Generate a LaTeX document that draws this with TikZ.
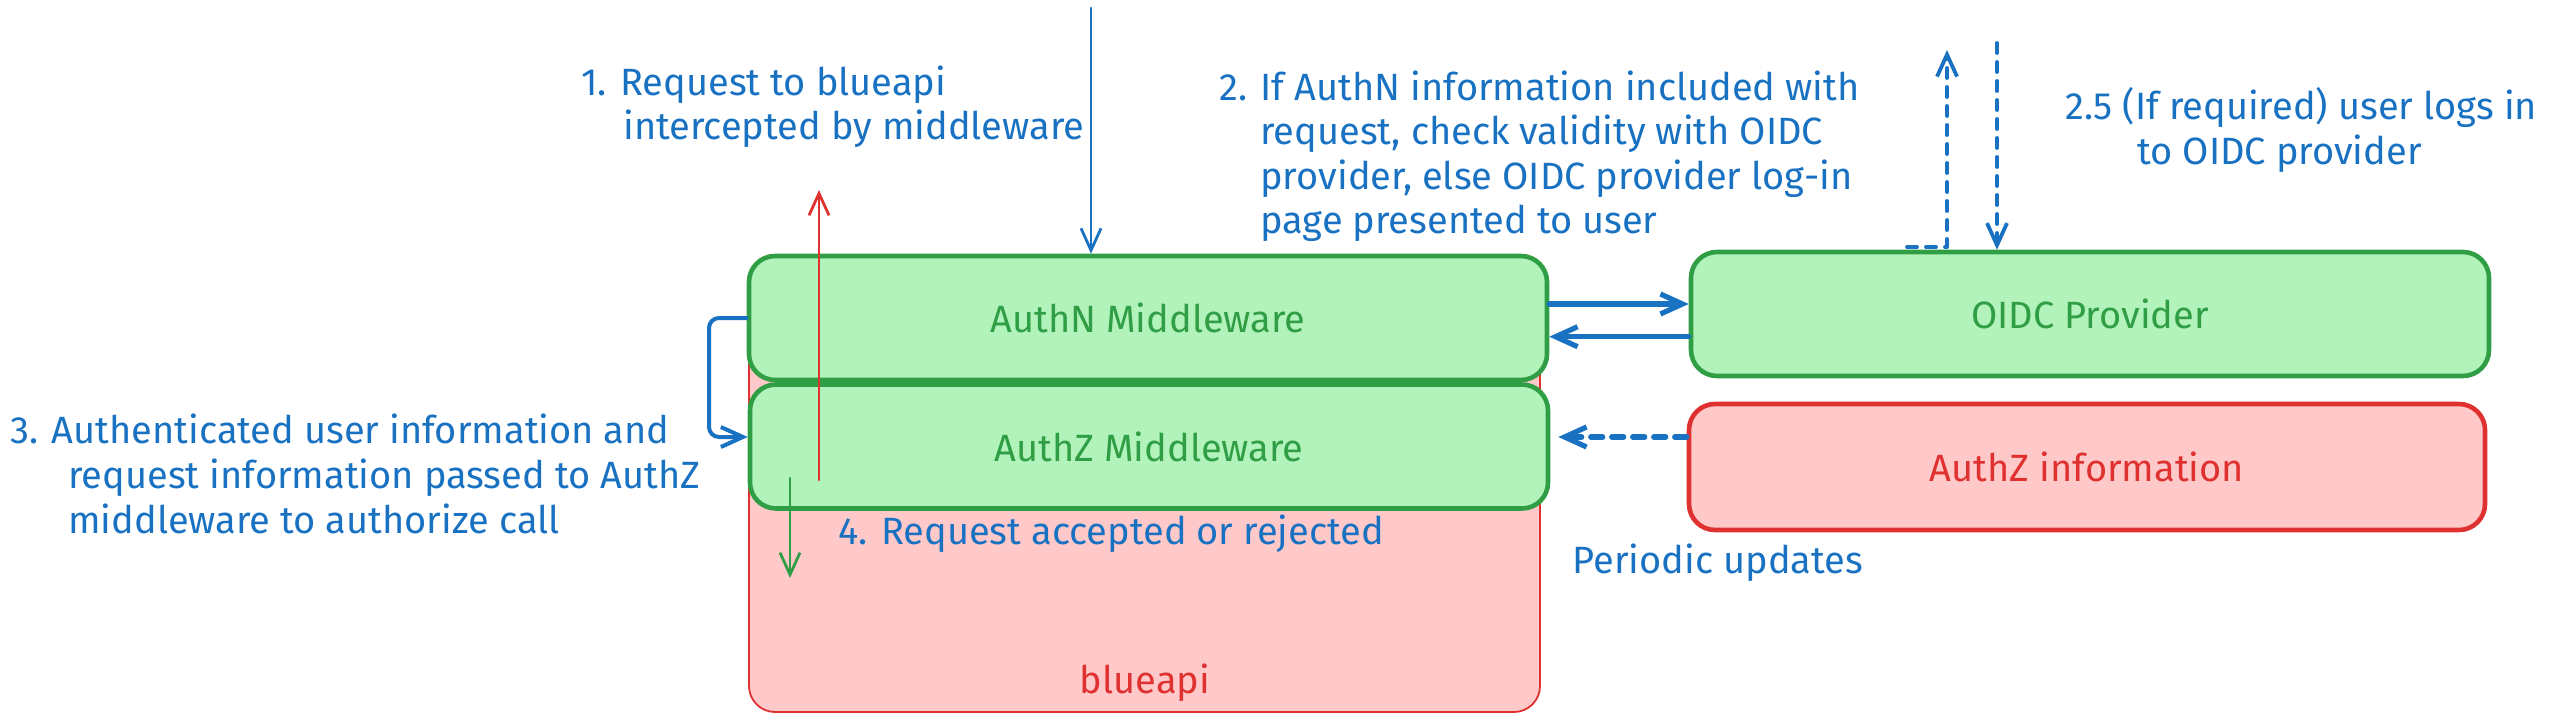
\documentclass[tikz,border=0pt]{standalone}
\usepackage{fontspec}
\setmainfont{Fira Sans}
\usetikzlibrary{arrows.meta,calc}
\definecolor{exgreen}{HTML}{2F9E44}
\definecolor{exgreenfill}{HTML}{B2F2BB}
\definecolor{exred}{HTML}{E03131}
\definecolor{exredfill}{HTML}{FFC9C9}
\definecolor{exblue}{HTML}{1971C2}
\begin{document}
\begin{tikzpicture}[x=0.5pt,y=-0.5pt,
  txt/.style={font=\fontsize{19}{22.3}\selectfont, inner sep=0pt, align=left},
  lbl/.style={txt, text=exblue, anchor=base west},
  gbox/.style={draw=exgreen, fill=exgreenfill, line width=2.3pt, rounded corners=13pt,
    minimum width=399pt, minimum height=62pt, text=exgreen, font=\fontsize{19}{22.3}\selectfont},
  rbox/.style={draw=exred, fill=exredfill, line width=2.3pt, rounded corners=13pt,
    minimum width=398pt, minimum height=63pt, text=exred, font=\fontsize{19}{22.3}\selectfont},
  apibox/.style={draw=exred, fill=exredfill, line width=0.9pt, rounded corners=13pt,
    minimum width=395.5pt, minimum height=225pt, inner sep=0pt},
  arr/.style={-{Straight Barb[length=11pt,width=10pt]}, line cap=round, line join=round},
  thinblue/.style={arr, draw=exblue, line width=1.4pt},
  thickblue/.style={arr, draw=exblue, line width=2.6pt},
  dashblue/.style={arr, draw=exblue, line width=2.6pt, dash pattern=on 6pt off 4.5pt},
  dashthin/.style={arr, draw=exblue, line width=1.9pt, dash pattern=on 5pt off 4.5pt},
]
\useasboundingbox (0,0) rectangle (2576,722);

% boxes
\node[apibox] (api) at (1144.5,487) {};
\node[txt, text=exred, anchor=base] (apilbl) at (1145,693) {blueapi};
\node[gbox] (authn) at (1148,318) {AuthN Middleware};
\node[gbox] (authz) at (1149,446.5) {AuthZ Middleware};
\node[gbox] (oidc) at (2090,314) {OIDC Provider};
\node[rbox] (azinfo) at (2087,467) {AuthZ information};

% free ends
\coordinate (topin) at (1091,8);
\coordinate (redbot) at (819,480);
\coordinate (redtop) at (819,190);
\coordinate (grtop) at (790,478);
\coordinate (grbot) at (790,578);
\coordinate (upend) at (1947,50);
\coordinate (upstart) at (1907,247);
\coordinate (downstart) at (1997,43);
\coordinate (brk) at (709,0);

% connectors
\draw[thinblue] (topin) -- (topin |- authn.north);
\draw[arr, draw=exred, line width=1.4pt] (redbot) -- (redtop);
\draw[arr, draw=exgreen, line width=1.4pt] (grtop) -- (grbot);
\draw[arr, draw=exblue, line width=2pt, rounded corners=5pt]
  (authn.west) -- (authn.west -| brk) -- ([yshift=4.75pt]authz.west -| brk) -- ([yshift=4.75pt]authz.west);
\draw[thickblue] ([yshift=7pt]authn.east) -- ([yshift=7pt]authn.east -| oidc.west);
\draw[thickblue] ([yshift=-11.35pt]oidc.west) -- ([yshift=-11.35pt]oidc.west -| authn.east);
\draw[dashblue] ([yshift=15pt]azinfo.west) -- ([yshift=15pt,xshift=4pt]azinfo.west -| authz.east);
\draw[dashthin] (upstart) -- (upstart -| upend) -- (upend);
\draw[dashthin] (downstart) -- (downstart |- oidc.north);

% labels (anchored at the baseline of their last line)
\node[lbl] (l1) at (581,140) {1. Request to blueapi\\\hspace*{21pt}intercepted by middleware};
\node[lbl] (l2) at (1219,234) {2. If AuthN information included with\\\hspace*{20.5pt}request, check validity with OIDC\\\hspace*{20.5pt}provider, else OIDC provider log-in\\\hspace*{20.5pt}page presented to user};
\node[lbl] (l25) at (2065,164) {2.5 (If required) user logs in\\\hspace*{36pt}to OIDC provider};
\node[lbl] (l3) at (10,533) {3. Authenticated user information and\\\hspace*{29pt}request information passed to AuthZ\\\hspace*{29pt}middleware to authorize call};
\node[lbl] (l4) at (838,544) {4. Request accepted or rejected};
\node[lbl] (lp) at (1572,573) {Periodic updates};
\end{tikzpicture}
\end{document}
